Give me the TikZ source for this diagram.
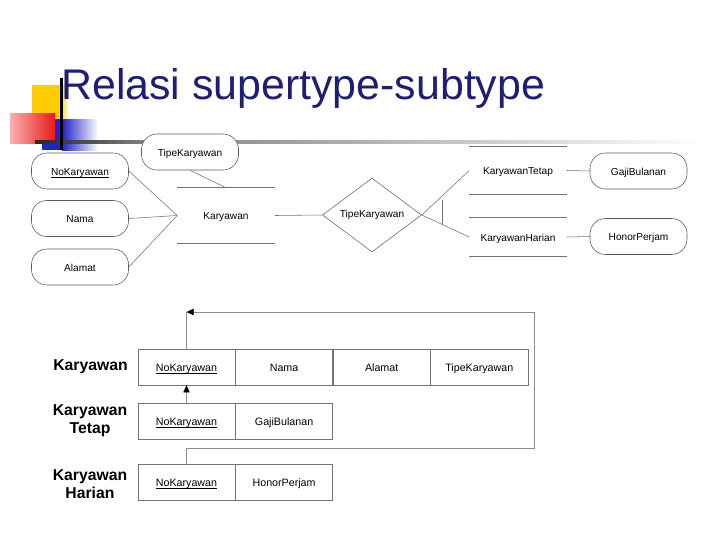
\documentclass[tikz,border=0pt]{standalone}
\usepackage{fontspec}
\setmainfont{Liberation Sans}
\usepackage{tikz}
\usetikzlibrary{shapes.geometric,arrows.meta,positioning,calc}

\definecolor{titleblue}{RGB}{30,30,118}
\definecolor{decoyellow}{RGB}{255,204,0}
\definecolor{decoblue}{RGB}{34,34,200}
\definecolor{decored}{RGB}{236,24,24}
\definecolor{decopink}{RGB}{250,175,175}

% key attribute: underline just below the baseline
\newcommand{\keyattr}[1]{\setbox0\hbox{#1}\rlap{\rule[-1.3pt]{\wd0}{0.35pt}}\box0}

\begin{document}
\begin{tikzpicture}[x=0.025cm, y=-0.025cm,
    attr/.style={draw=black!65, fill=white, rounded corners=11pt, minimum width=2.425cm, minimum height=0.9cm, font=\fontsize{7.2}{8}\selectfont, text height=1.6ex, text depth=0.4ex, inner sep=1pt},
    entity/.style={minimum width=2.425cm, font=\fontsize{7.2}{8}\selectfont, text height=1.6ex, text depth=0.4ex, inner sep=0pt},
    rel/.style={draw=black!60, diamond, minimum width=2.475cm, minimum height=1.75cm, font=\fontsize{7.2}{8}\selectfont, inner sep=0pt},
    cell/.style={draw=black!55, minimum width=2.425cm, minimum height=0.9cm, font=\fontsize{7.6}{9}\selectfont, text height=1.6ex, text depth=0.4ex, inner sep=0pt},
    tlabel/.style={font=\fontsize{11.2}{13}\selectfont\bfseries, align=center, inner sep=0pt},
    line/.style={draw=black!55, line width=0.4pt},
    arr/.style={-{Triangle[length=5pt, width=4.5pt, color=black]}, draw=black!45, line width=0.4pt},
]
\useasboundingbox (0,0) rectangle (720,540);

% Decoration
\fill[decoyellow] (32,85) rectangle (58,118);
\shade[left color=decoyellow, right color=decoyellow!20] (58,85) rectangle (68,118);
\fill[decoblue] (42,119) rectangle (62,150);
\shade[left color=decoblue, right color=white] (62,119) rectangle (98,150);
\shade[left color=decopink, right color=decored] (10,113) rectangle (55,143);
\shade[left color=black!85, right color=black!50] (35,140) rectangle (145,143);
\shade[left color=black!50, right color=white] (145,140) rectangle (705,143);
\fill[black] (60,78) rectangle (62.5,150);

% Title
\node[anchor=base west, inner sep=0pt, text=titleblue, font=\fontsize{30.5}{34}\selectfont] (title) at (61,99) {Relasi supertype-subtype};

% Attributes
\node[attr] (tipe) at (190,152) {TipeKaryawan};
\node[attr] (noKar) at (80,171) {\keyattr{NoKaryawan}};
\node[attr] (nama) at (80,218.5) {Nama};
\node[attr] (alamat) at (80,267) {Alamat};
\node[attr] (gaji) at (638.5,171) {GajiBulanan};
\node[attr] (honor) at (638.5,236.5) {HonorPerjam};

% Entities
\node[entity, minimum height=1.375cm] (kar) at (226,215.5) {Karyawan};
\node[entity, minimum height=1.175cm] (tetap) at (518,170.5) {KaryawanTetap};
\node[entity, minimum height=0.95cm] (harian) at (518,237) {KaryawanHarian};
\foreach \e in {kar,tetap,harian}
  \draw[line] (\e.north west) -- (\e.north east) (\e.south west) -- (\e.south east);

% Relationship
\node[rel] (subtipe) at (372,215) {TipeKaryawan};
\coordinate (markT) at (442,200);
\coordinate (markB) at (442,225);

\draw[line] (noKar.east) -- (kar.west);
\draw[line] (nama.east) -- (kar.west);
\draw[line] (alamat.east) -- (kar.west);
\draw[line] (tipe.south) -- (kar.north);
\draw[line] (kar.east) -- (subtipe.west);
\draw[line] (subtipe.east) -- (tetap.west);
\draw[line] (subtipe.east) -- (harian.west);
\draw[line] (markT) -- (markB);
\draw[line] (tetap.east) -- (gaji.west);
\draw[line] (harian.east) -- (honor.west);

% Relations
\node[tlabel, anchor=west] (lKar) at (53,367) {Karyawan};
\node[tlabel] (lTetap) at (90,421) {Karyawan\\Tetap};
\node[tlabel] (lHarian) at (90,484) {Karyawan\\Harian};

\node[cell] (k1) at (186.5,367) {\keyattr{NoKaryawan}};
\node[cell, right=0pt of k1] (k2) {Nama};
\node[cell, right=0pt of k2] (k3) {Alamat};
\node[cell, right=0pt of k3] (k4) {TipeKaryawan};

\node[cell] (t1) at (186.5,421.5) {\keyattr{NoKaryawan}};
\node[cell, right=0pt of t1] (t2) {GajiBulanan};

\node[cell] (h1) at (186.5,482) {\keyattr{NoKaryawan}};
\node[cell, right=0pt of h1] (h2) {HonorPerjam};

% Foreign keys
\coordinate (bendA) at (534,448);
\coordinate (bendB) at (534,312);
\coordinate (tipK) at (186.5,312);
\draw[arr] (h1.north) |- (bendA) -- (bendB) -- (tipK);
\draw[line, draw=black!45] (tipK) -- (k1.north);
\draw[arr] (t1.north) -- (k1.south);

\end{tikzpicture}
\end{document}
